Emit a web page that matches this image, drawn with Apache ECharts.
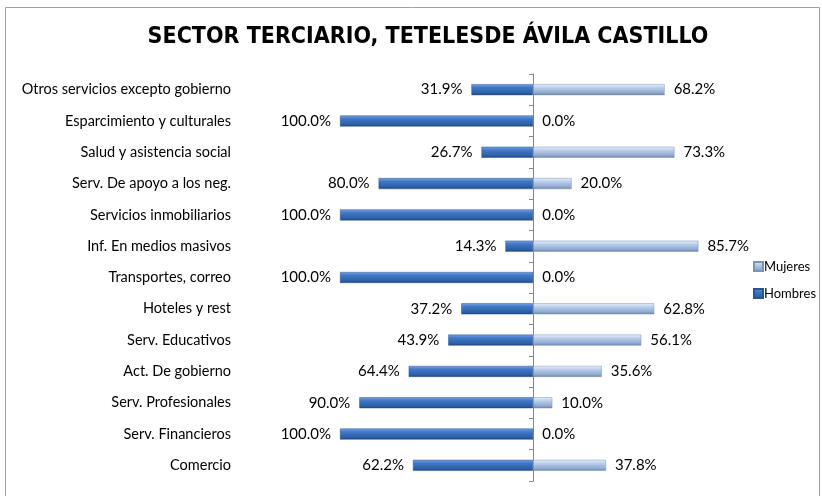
<!DOCTYPE html>
<html>
<head>
<meta charset="utf-8">
<script src="https://cdn.jsdelivr.net/npm/echarts@6/dist/echarts.min.js"></script>
<style>
  html, body { margin: 0; padding: 0; background: #fff; }
  #chart { width: 822px; height: 496px; }
</style>
</head>
<body>
<div id="chart"></div>
<script>
// categorías de arriba hacia abajo
const categorias = [
  'Otros servicios excepto gobierno',
  'Esparcimiento y culturales',
  'Salud y asistencia social',
  'Serv. De apoyo a los neg.',
  'Servicios inmobiliarios',
  'Inf. En medios masivos',
  'Transportes, correo',
  'Hoteles y rest',
  'Serv. Educativos',
  'Act. De gobierno',
  'Serv. Profesionales',
  'Serv. Financieros',
  'Comercio'
];
const hombres = [31.9, 100.0, 26.7, 80.0, 100.0, 14.3, 100.0, 37.2, 43.9, 64.4, 90.0, 100.0, 62.2];
const mujeres = [68.2, 0.0, 73.3, 20.0, 0.0, 85.7, 0.0, 62.8, 56.1, 35.6, 10.0, 0.0, 37.8];

const fuente = 'Lato, "Open Sans", sans-serif';
const chart = echarts.init(document.getElementById('chart'));

// degradados para el efecto cilíndrico
const colorHombres = new echarts.graphic.LinearGradient(0, 0, 0, 1, [
  { offset: 0, color: '#7aa4e4' },
  { offset: 0.3, color: '#4178c8' },
  { offset: 0.8, color: '#2d5fa6' },
  { offset: 1, color: '#1f4478' }
]);
const colorMujeres = new echarts.graphic.LinearGradient(0, 0, 0, 1, [
  { offset: 0, color: '#e8f0fc' },
  { offset: 0.3, color: '#bdd0ec' },
  { offset: 0.8, color: '#8ea8cc' },
  { offset: 1, color: '#667fa3' }
]);

const option = {
  animation: false,
  title: {
    text: 'SECTOR TERCIARIO, TETELESDE ÁVILA CASTILLO',
    left: 423,
    textAlign: 'center',
    top: 21,
    textStyle: { fontFamily: '"DejaVu Sans Condensed", sans-serif', fontWeight: 'bold', fontSize: 23, color: '#000' }
  },
  legend: {
    orient: 'vertical',
    left: 748,
    top: 255,
    itemWidth: 9,
    itemHeight: 9,
    itemGap: 14,
    icon: 'rect',
    data: ['Mujeres', 'Hombres'],
    textStyle: { fontFamily: fuente, fontSize: 13, color: '#000', padding: [0, 0, 0, -4] }
  },
  graphic: [{
    type: 'rect',
    shape: { x: 5.5, y: 7.5, width: 814, height: 495 },
    style: { fill: 'none', stroke: '#a0a0a0', lineWidth: 1 },
    silent: true
  }],
  grid: { left: 340, right: 96, top: 74, bottom: 15 },
  xAxis: {
    type: 'value',
    min: -100,
    max: 100,
    show: false
  },
  yAxis: [
    {
      type: 'category',
      data: categorias,
      inverse: true,
      axisLine: { onZero: true, lineStyle: { color: '#868686' } },
      axisTick: { show: true, length: 4, lineStyle: { color: '#868686' } },
      axisLabel: { show: false }
    },
    {
      type: 'category',
      data: categorias,
      inverse: true,
      position: 'left',
      axisLine: { show: false, onZero: false },
      axisTick: { show: false },
      axisLabel: { margin: 109, fontFamily: fuente, fontSize: 14.5, color: '#000' }
    }
  ],
  series: [
    {
      name: 'Mujeres',
      type: 'bar',
      data: mujeres,
      barWidth: 11,
      barGap: '-100%',
      itemStyle: { color: colorMujeres, borderColor: '#7d93b3', borderWidth: 0.5 },
      label: {
        show: true, position: 'right', distance: 9,
        formatter: p => p.value.toFixed(1) + '%',
        fontFamily: fuente, fontSize: 15, color: '#000'
      }
    },
    {
      name: 'Hombres',
      type: 'bar',
      data: hombres.map(v => -v),
      barWidth: 11,
      itemStyle: { color: colorHombres, borderColor: '#2a5590', borderWidth: 0.5 },
      label: {
        show: true, position: 'left', distance: 9,
        formatter: p => Math.abs(p.value).toFixed(1) + '%',
        fontFamily: fuente, fontSize: 15, color: '#000'
      }
    }
  ]
};

chart.setOption(option);
window.onresize = () => chart.resize();
</script>
</body>
</html>
